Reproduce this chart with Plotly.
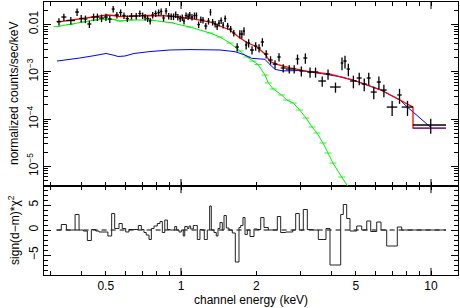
import plotly.graph_objects as go

# ---------------- data ----------------
E_edges = [0.318, 0.332, 0.348, 0.377, 0.391, 0.407, 0.422, 0.438, 0.456, 0.470,
           0.492, 0.510, 0.528, 0.543, 0.565, 0.582, 0.601, 0.619, 0.649, 0.675,
           0.694, 0.711, 0.726, 0.745, 0.761, 0.780, 0.804, 0.824, 0.842, 0.861,
           0.882, 0.904, 0.923, 0.944, 0.961, 0.982, 1.003, 1.021, 1.035, 1.060,
           1.076, 1.093, 1.120, 1.145, 1.162, 1.191, 1.210, 1.239, 1.274, 1.302,
           1.322, 1.355, 1.384, 1.406, 1.432, 1.463, 1.486, 1.518, 1.556, 1.604,
           1.649, 1.706, 1.733, 1.770, 1.803, 1.842, 1.888, 1.959, 2.020, 2.084,
           2.148, 2.235, 2.327, 2.428, 2.505, 2.623, 2.798, 2.876, 2.973, 3.085,
           3.201, 3.364, 3.542, 3.802, 3.945, 4.353, 4.458, 4.600, 4.742, 5.044,
           5.282, 5.532, 5.740, 6.067, 6.310, 6.650, 7.331, 7.635, 8.472, 11.48]

flux = [0.01151, 0.01433, 0.01209, 0.01829, 0.01333, 0.01300, 0.01020, 0.01433, 0.01433, 0.01365,
        0.01433, 0.01300, 0.02116, 0.01580, 0.01785, 0.01542, 0.01333, 0.01505, 0.01505, 0.01700,
        0.01542, 0.01433, 0.01333, 0.01180, 0.01580, 0.01700, 0.01785, 0.01874, 0.01365, 0.01920,
        0.01505, 0.01469, 0.01469, 0.01620, 0.01433, 0.01333, 0.01399, 0.01180, 0.01542, 0.01469,
        0.01580, 0.01433, 0.01542, 0.01542, 0.00995, 0.01269, 0.01239, 0.00925, 0.01180, 0.01829,
        0.01124, 0.01020, 0.00903, 0.01070, 0.01209, 0.00971, 0.01333, 0.00925, 0.00799, 0.00658,
        0.00333, 0.00627, 0.00627, 0.00725, 0.00367, 0.00404, 0.00288, 0.00349, 0.00317, 0.00425,
        0.00237, 0.00177, 0.00145, 0.00205, 0.00120, 0.00114, 0.00114, 0.00186, 0.00104, 0.00195,
        0.000986, 0.000986, 0.000636, 0.000894, 0.000475, 0.00153, 0.00168, 0.00114, 0.000636, 0.000736,
        0.000550, 0.000736, 0.000372, 0.000606, 0.000410, 0.000179, 0.000322, 0.000179, 0.0000747]

flux_relerr = [0.18, 0.18, 0.18, 0.18, 0.18, 0.18, 0.18, 0.18, 0.18, 0.18,
               0.18, 0.18, 0.16, 0.16, 0.16, 0.16, 0.16, 0.16, 0.16, 0.16,
               0.16, 0.16, 0.16, 0.16, 0.16, 0.16, 0.16, 0.16, 0.16, 0.16,
               0.16, 0.16, 0.16, 0.16, 0.16, 0.16, 0.16, 0.16, 0.16, 0.16,
               0.16, 0.16, 0.16, 0.16, 0.16, 0.16, 0.16, 0.16, 0.16, 0.16,
               0.16, 0.16, 0.16, 0.16, 0.16, 0.16, 0.16, 0.16, 0.16, 0.16,
               0.20, 0.20, 0.20, 0.20, 0.20, 0.20, 0.20, 0.20, 0.20, 0.20,
               0.20, 0.20, 0.20, 0.20, 0.20, 0.20, 0.20, 0.24, 0.24, 0.24,
               0.24, 0.24, 0.24, 0.24, 0.24, 0.30, 0.30, 0.30, 0.30, 0.30,
               0.30, 0.30, 0.30, 0.30, 0.30, 0.35, 0.35, 0.35, 0.35]

resid = [0, 1.1, 0, 3.1, 0, -0.2, -2.1, 0.1, -0.2, -0.4,
         -0.4, -1.2, 3.3, 0.3, 1.3, 0.3, -0.4, 0.1, 0.1, 0.9,
         0.1, -0.5, -1.0, -1.9, 0.3, 0.8, 1.3, 1.7, -0.5, 2.0,
         0.1, 0, 0, 0.7, 0, -0.4, 0, -1.2, 0.7, 0.3,
         0.8, 0.2, 0.9, 0.9, -1.9, 0.1, 0, -1.9, 0, 4.8,
         0, -0.5, -1.2, 0.3, 1.5, 0, 2.9, 0.4, 0, -0.6,
         -6.4, 0.5, 0.9, 2.5, -0.9, 0, -1.3, 0.2, 0.1, 2.5,
         0.5, 0, 0, 2.7, -0.5, -0.4, 0, 3.3, 0, 4.1,
         0.1, 0, -1.9, 0.3, -7.0, 3.1, 5.1, 2.3, -0.2, 0.8,
         0, 1.8, -0.3, 1.6, 0, -3.2, 0.6, 0, 0]

green_E = [0.319, 0.360, 0.406, 0.453, 0.506, 0.535, 0.570, 0.625, 0.752, 0.904,
           1.086, 1.306, 1.432, 1.570, 1.722, 1.837, 1.941, 2.032, 2.168, 2.235,
           2.340, 2.528, 2.647, 2.813, 2.985, 3.162, 3.342, 3.499, 3.698, 3.873,
           4.055, 4.394, 4.970]
green_flux = [0.00903, 0.00995, 0.01124, 0.01239, 0.01300, 0.01269, 0.01180, 0.01239, 0.01239, 0.01097,
              0.00881, 0.00658, 0.00542, 0.00404, 0.00274, 0.00205, 0.00168, 0.00142, 0.000851, 0.000577,
              0.000431, 0.000322, 0.000252, 0.000218, 0.000155, 0.000105, 0.0000678, 0.0000506, 0.0000311, 0.0000191,
              0.0000117, 0.00000594, 0.00000218]

blue_E = [0.319, 0.350, 0.394, 0.453, 0.501, 0.535, 0.560, 0.597, 0.649, 0.752,
          0.904, 1.086, 1.306, 1.432, 1.644, 1.803, 1.918, 2.168, 2.235, 2.377,
          2.559, 2.985, 3.597, 4.325, 4.875, 5.546, 6.310, 6.668, 7.516, 8.017,
          9.908]
blue_flux = [0.00168, 0.00177, 0.00195, 0.00220, 0.00243, 0.00225, 0.00210, 0.00215, 0.00243, 0.00267,
             0.00288, 0.00294, 0.00294, 0.00288, 0.00265, 0.00225, 0.00192, 0.00183, 0.00153, 0.00112,
             0.00104, 0.00106, 0.000925, 0.000784, 0.000668, 0.000524, 0.000410, 0.000349, 0.000252, 0.000182,
             0.0000687]
blue_step_E = [8.472, 11.48]
blue_step_flux = [0.0000645, 0.0000645]

red_E = [0.319, 0.360, 0.406, 0.453, 0.506, 0.535, 0.570, 0.649, 0.752, 0.904,
         1.019, 1.191, 1.306, 1.432, 1.570, 1.722, 1.837, 2.014, 2.168, 2.270,
         2.443, 2.729, 3.251, 3.945, 4.875, 5.546, 6.310, 7.516, 8.472, 8.472,
         11.48]
red_flux = [0.01124, 0.01239, 0.01346, 0.01469, 0.01580, 0.01542, 0.01456, 0.01505, 0.01542, 0.01505,
            0.01413, 0.01239, 0.01124, 0.00925, 0.00762, 0.00516, 0.00414, 0.00333, 0.00237, 0.00164,
            0.00142, 0.00120, 0.00101, 0.000894, 0.000668, 0.000524, 0.000410, 0.000252, 0.000179, 0.0000645,
            0.0000645]

x_tick_vals = [0.5, 1, 2, 5, 10]
x_tick_text = ["0.5", "1", "2", "5", "10"]
x_minor_vals = [0.3, 0.4, 0.6, 0.7, 0.8, 0.9, 3, 4, 6, 7, 8, 9]
y_tick_vals = [1e-5, 1e-4, 1e-3, 1e-2]
y_tick_text = ["10<sup>\u22125</sup>", "10<sup>\u22124</sup>", "10<sup>\u22123</sup>", "0.01"]
r_tick_vals = [-5, 0, 5]
r_tick_text = ["\u22125", "0", "5"]

# ---------------- derived ----------------
centers = [(a + b) / 2 for a, b in zip(E_edges[:-1], E_edges[1:])]
half_w = [(b - a) / 2 for a, b in zip(E_edges[:-1], E_edges[1:])]
ferr = [f * r for f, r in zip(flux, flux_relerr)]
y_minor = [m * 10.0 ** e for e in range(-6, -1) for m in range(2, 10)]
y_minor = [v for v in y_minor if 3.8e-6 < v < 0.0298]
r_minor = [v for v in range(-8, 9) if v not in (-5, 0, 5)]

fig = go.Figure()

# upper panel: models
fig.add_trace(go.Scatter(x=green_E, y=green_flux, mode="lines+markers",
                         line=dict(color="#00ee00", width=1),
                         marker=dict(symbol="line-ew", size=5, color="#00ee00",
                                     line=dict(color="#00ee00", width=0.8)),
                         xaxis="x2", yaxis="y2"))
fig.add_trace(go.Scatter(x=blue_E, y=blue_flux, mode="lines",
                         line=dict(color="#0000ff", width=1), xaxis="x2", yaxis="y2"))
fig.add_trace(go.Scatter(x=red_E, y=red_flux, mode="lines",
                         line=dict(color="#ff0000", width=1.3), xaxis="x2", yaxis="y2"))
fig.add_trace(go.Scatter(x=blue_step_E, y=blue_step_flux, mode="lines", opacity=0.6,
                         line=dict(color="#0000ff", width=1.3), xaxis="x2", yaxis="y2"))
# data crosses
fig.add_trace(go.Scatter(x=centers, y=flux, mode="markers",
                         marker=dict(size=1, color="black"),
                         error_x=dict(type="data", array=half_w, color="black", thickness=1.3, width=0),
                         error_y=dict(type="data", array=ferr, color="black", thickness=1.3, width=0),
                         xaxis="x2", yaxis="y2"))

# lower panel: residuals
fig.add_trace(go.Scatter(x=[E_edges[0], E_edges[-1]], y=[0, 0], mode="lines",
                         line=dict(color="black", width=1, dash="5px,4px"), xaxis="x", yaxis="y"))
fig.add_trace(go.Scatter(x=E_edges, y=resid + [resid[-1]], mode="lines", line_shape="hv",
                         line=dict(color="#222222", width=1), xaxis="x", yaxis="y"))

axis_common = dict(showline=True, linecolor="black", linewidth=1, mirror="allticks",
                   ticks="inside", tickcolor="black", showgrid=False, zeroline=False,
                   automargin=False)

fig.update_layout(
    width=460, height=308,
    margin=dict(l=44, r=2, t=2, b=33),
    paper_bgcolor="white", plot_bgcolor="white",
    showlegend=False,
    font=dict(family="Liberation Sans, Arial, sans-serif", size=12, color="black"),
    xaxis=dict(type="log", range=[-0.548, 1.108], domain=[0, 1], anchor="y",
               tickvals=x_tick_vals, ticktext=x_tick_text, ticklen=4,
               minor=dict(tickvals=x_minor_vals, ticklen=4, ticks="inside", tickcolor="black"),
               tickfont=dict(size=12), **axis_common),
    yaxis=dict(range=[-9, 8.8], domain=[0, 0.326], anchor="x",
               tickvals=r_tick_vals, ticktext=r_tick_text, ticklen=7, tickangle=-90,
               minor=dict(tickvals=r_minor, ticklen=4, ticks="inside", tickcolor="black"),
               tickfont=dict(size=12), **axis_common),
    xaxis2=dict(type="log", range=[-0.548, 1.108], domain=[0, 1], anchor="y2", matches="x",
                tickvals=x_tick_vals, ticktext=x_tick_text, ticklen=4, showticklabels=False,
                minor=dict(tickvals=x_minor_vals, ticklen=4, ticks="inside", tickcolor="black"),
                **axis_common),
    yaxis2=dict(type="log", range=[-5.416, -1.526], domain=[0.326, 1], anchor="x2",
                tickvals=y_tick_vals, ticktext=y_tick_text, ticklen=7, tickangle=-90,
                minor=dict(tickvals=y_minor, ticklen=4, ticks="inside", tickcolor="black"),
                tickfont=dict(size=12), **axis_common),
)

# longer ticks at the decades 1 and 10 on every horizontal frame edge
for xv in (1, 10):
    for yref, y0, y1 in (("y domain", 0, 0.08), ("y domain", 1, 0.92),
                         ("y2 domain", 0, 0.038), ("y2 domain", 1, 0.962)):
        fig.add_shape(type="line", xref="x", yref=yref, x0=xv, x1=xv, y0=y0, y1=y1,
                      line=dict(color="black", width=1))

fig.add_annotation(text="normalized counts/sec/keV", xref="paper", yref="paper",
                   x=-30 / 414, y=0.663, textangle=-90, showarrow=False,
                   xanchor="center", yanchor="middle", font=dict(size=12))
fig.add_annotation(text="sign(d\u2212m)*\u03c7<sup>2</sup>", xref="paper", yref="paper",
                   x=-30 / 414, y=0.165, textangle=-90, showarrow=False,
                   xanchor="center", yanchor="middle", font=dict(size=12))
fig.add_annotation(text="channel energy (keV)", xref="paper", yref="paper",
                   x=0.5, y=-0.0916, showarrow=False,
                   xanchor="center", yanchor="middle", font=dict(size=12))

fig.write_html("out.html", config={"displayModeBar": False},
               post_script="document.body.style.margin='0';document.body.style.padding='0';")
